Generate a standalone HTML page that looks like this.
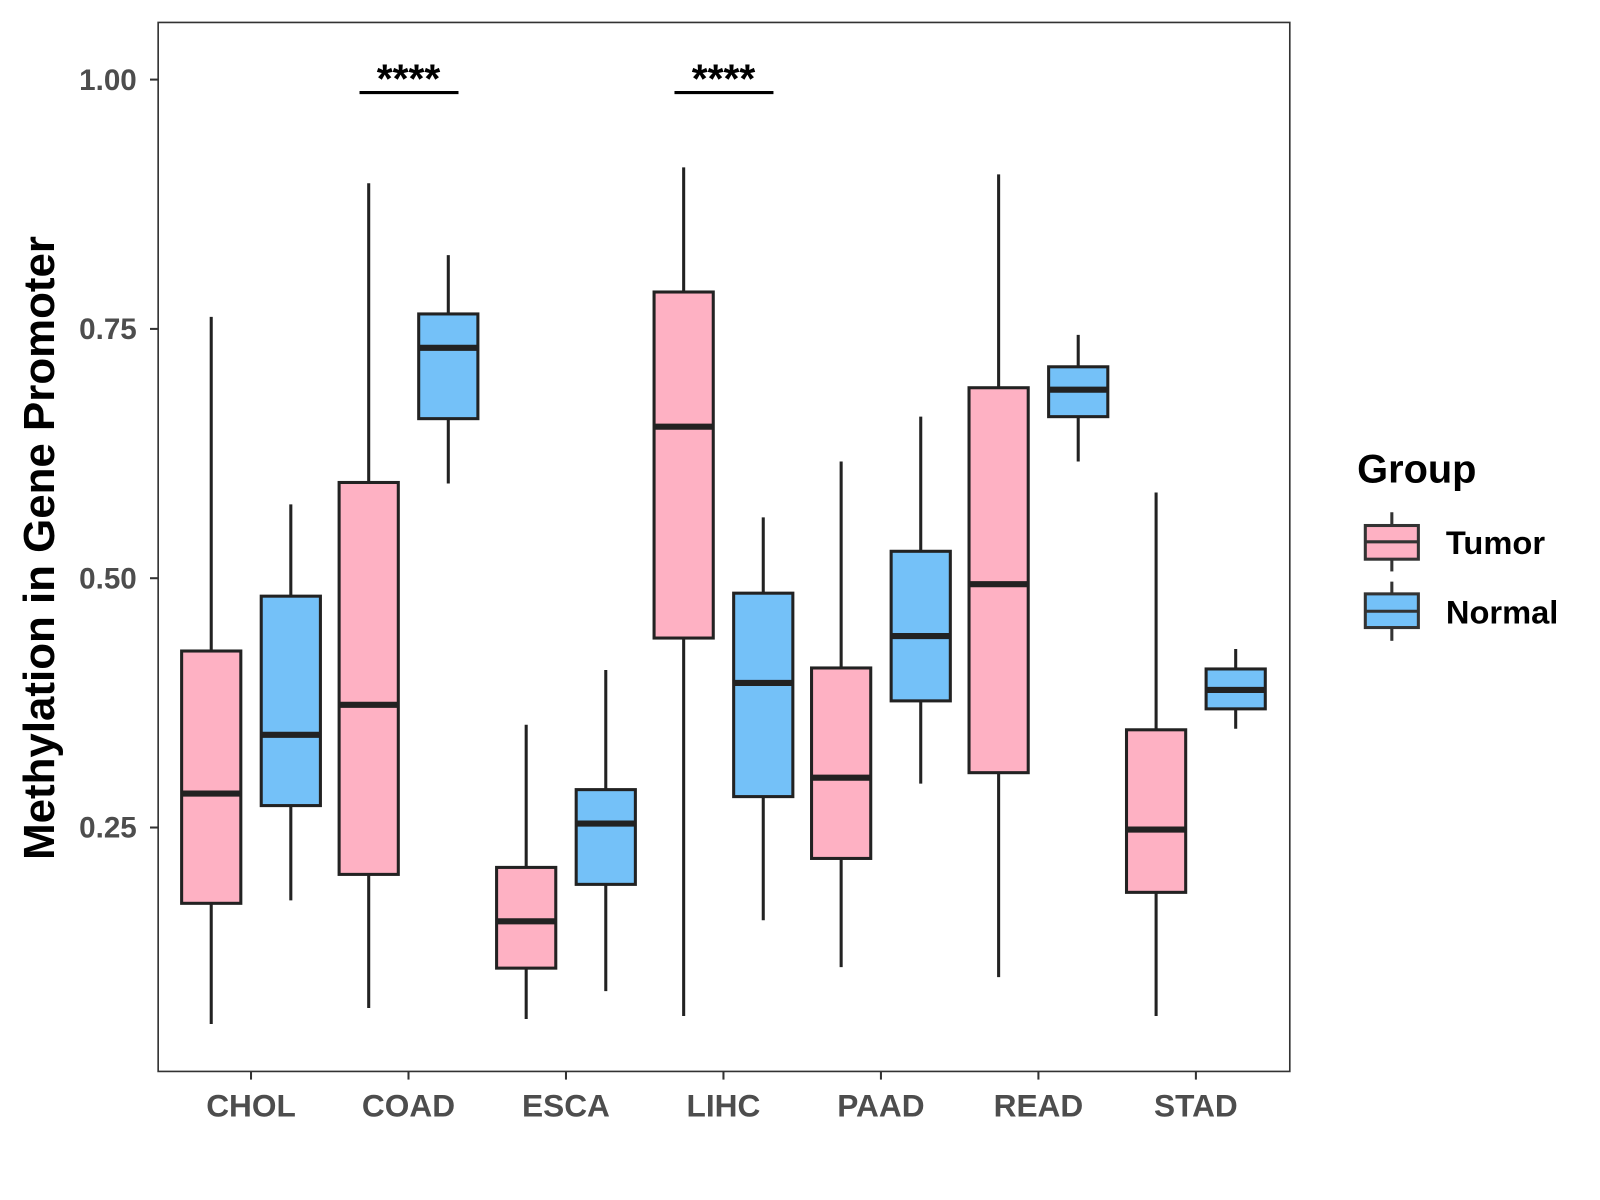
<!DOCTYPE html>
<html><head><meta charset="utf-8"><style>
html,body{margin:0;padding:0;background:#fff;}
svg{display:block;font-family:"Liberation Sans",Arial,sans-serif;}
</style></head><body>
<svg id="chart" width="1600" height="1200" viewBox="0 0 1568 1176" xmlns="http://www.w3.org/2000/svg">
<rect width="1568" height="1176" fill="#fff"/>
<g id="marks"></g>
<rect x="155" y="22" width="1109" height="1028" fill="none" stroke="#333" stroke-width="1.6"/>
<text transform="translate(53,537) rotate(-90)" text-anchor="middle" font-size="43" font-weight="bold" fill="#000">Methylation in Gene Promoter</text>
<text x="1330" y="473" font-size="39" font-weight="bold">Group</text>
<g>
<line x1="1364" y1="502" x2="1364" y2="560" stroke="#333" stroke-width="3"/>
<rect x="1338" y="515" width="52" height="33" fill="#FEB1C3" stroke="#333" stroke-width="3"/>
<line x1="1338" y1="531" x2="1390" y2="531" stroke="#333" stroke-width="3"/>
<text x="1417" y="543" font-size="32" font-weight="bold">Tumor</text>
</g>
<g>
<line x1="1364" y1="570" x2="1364" y2="628" stroke="#333" stroke-width="3"/>
<rect x="1338" y="582" width="52" height="33" fill="#74C1F8" stroke="#333" stroke-width="3"/>
<line x1="1338" y1="599" x2="1390" y2="599" stroke="#333" stroke-width="3"/>
<text x="1417" y="611" font-size="32" font-weight="bold">Normal</text>
</g>
</svg>
<script>
const categories=["CHOL","COAD","ESCA","LIHC","PAAD","READ","STAD"];
const tumorMin=[0.053,0.069,0.058,0.061,0.110,0.100,0.061];
const tumorQ1=[0.174,0.203,0.109,0.440,0.219,0.305,0.185];
const tumorMed=[0.284,0.373,0.156,0.652,0.300,0.494,0.248];
const tumorQ3=[0.427,0.596,0.210,0.787,0.410,0.691,0.348];
const tumorMax=[0.762,0.896,0.353,0.912,0.617,0.905,0.586];
const normalMin=[0.177,0.595,0.086,0.157,0.294,0.617,0.349];
const normalQ1=[0.272,0.660,0.193,0.281,0.377,0.662,0.369];
const normalMed=[0.343,0.731,0.254,0.395,0.442,0.689,0.388];
const normalQ3=[0.482,0.765,0.288,0.485,0.527,0.712,0.409];
const normalMax=[0.574,0.824,0.408,0.561,0.662,0.744,0.429];
const yTicks=[0.25,0.50,0.75,1.00];
const yTickLabels=["0.25","0.50","0.75","1.00"];
const sigCategories=["COAD","LIHC"];
const sigLabels=["****","****"];
const sigValue=0.987;

const NS="http://www.w3.org/2000/svg";
const g=document.getElementById('marks');
function y(v){return 78+(1-v)*977.3;}
function x(i){return 246+i*154.33;}
function mk(tag,attrs,parent){const e=document.createElementNS(NS,tag);for(const k in attrs)e.setAttribute(k,attrs[k]);(parent||g).appendChild(e);return e;}

yTicks.forEach((t,i)=>{
  const l=mk('line',{x1:147,x2:155,y1:y(t),y2:y(t),stroke:'#333','stroke-width':2});
  
  
  const tx=mk('text',{x:134,y:y(t)+10,'text-anchor':'end','font-size':29,'font-weight':'bold',fill:'#4d4d4d'});
  tx.textContent=yTickLabels[i];
  
  
});
categories.forEach((c,i)=>{
  const l=mk('line',{x1:x(i),x2:x(i),y1:1050,y2:1058,stroke:'#333','stroke-width':2});
  
  
  const tx=mk('text',{x:x(i),y:1094,'text-anchor':'middle','font-size':31,'font-weight':'bold',fill:'#4d4d4d'});
  tx.textContent=c;
  
  
});
function box(cx,mn,q1,md,q3,mx,fill,name){
  const grp=mk('g',{});
  
  
  mk('line',{x1:cx,x2:cx,y1:y(mx),y2:y(mn),stroke:'#222','stroke-width':3},grp);
  mk('rect',{x:cx-29,y:y(q3),width:58,height:y(q1)-y(q3),fill:fill,stroke:'#222','stroke-width':3},grp);
  mk('line',{x1:cx-29,x2:cx+29,y1:y(md),y2:y(md),stroke:'#222','stroke-width':6},grp);
}
categories.forEach((c,i)=>{
  box(x(i)-39,tumorMin[i],tumorQ1[i],tumorMed[i],tumorQ3[i],tumorMax[i],'#FEB1C3','box-tumor-'+c.toLowerCase());
  box(x(i)+39,normalMin[i],normalQ1[i],normalMed[i],normalQ3[i],normalMax[i],'#74C1F8','box-normal-'+c.toLowerCase());
});
sigCategories.forEach((c,k)=>{
  const i=categories.indexOf(c);
  const l=mk('line',{x1:x(i)-48,x2:x(i)+49,y1:y(sigValue),y2:y(sigValue),stroke:'#000','stroke-width':3});
  
  
  const t=mk('text',{x:x(i),y:y(sigValue),'text-anchor':'middle','font-size':40,'font-weight':'bold',fill:'#000'});
  t.textContent=sigLabels[k];
  
  
});
</script>
</body></html>
